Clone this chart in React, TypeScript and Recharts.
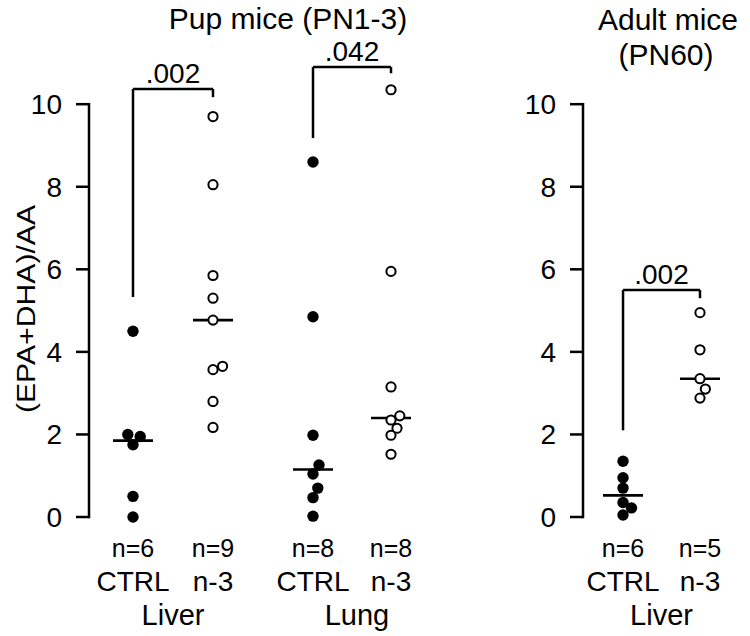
import React from "react";
import { ScatterChart, Scatter, XAxis, YAxis, ReferenceLine, Label } from "recharts";

// values, (EPA+DHA)/AA per animal
const liverCtrl = [4.5, 2.0, 1.95, 1.75, 0.5, 0.0];
const liverCtrlJitter = [0, -0.065, 0.09, 0, 0, 0];
const liverN3 = [9.7, 8.05, 5.85, 5.3, 4.77, 3.65, 3.57, 2.8, 2.17];
const liverN3Jitter = [0, 0, 0, 0, 0, 0.12, 0, 0, 0];
const lungCtrl = [8.6, 4.85, 1.98, 1.26, 1.04, 0.7, 0.47, 0.02];
const lungCtrlJitter = [0, 0, 0, 0.075, 0, 0.06, 0, 0];
const lungN3 = [10.35, 5.95, 3.15, 2.45, 2.35, 2.15, 1.98, 1.52];
const lungN3Jitter = [0, 0, 0, 0.11, 0, 0.075, 0, 0];
const adultCtrl = [1.35, 0.95, 0.7, 0.35, 0.22, 0.05];
const adultCtrlJitter = [0, 0, 0, 0, 0.11, 0];
const adultN3 = [4.95, 4.05, 3.35, 3.1, 2.88];
const adultN3Jitter = [0, 0, 0, 0.07, 0];

const treatLabels = ["CTRL", "n-3"];
const yTicks = [0, 2, 4, 6, 8, 10];

const pupGroupX = [1, 2, 3.25, 4.225];
const pupOrgans = ["Liver", "Lung"];
const pupOrganX = [1.5, 3.8];
const adultGroupX = [1, 2];
const adultOrgans = ["Liver"];
const adultOrganX = [1.5];

// significance brackets: x of both legs, bar height, where each leg stops, p value
const pupBrackets = [
    { x1: 1, x2: 2, top: 10.37, left: 5.33, right: 10.17, p: ".002" },
    { x1: 3.25, x2: 4.225, top: 10.9, left: 9.18, right: 10.75, p: ".042" },
];
const adultBrackets = [{ x1: 1, x2: 2, top: 5.5, left: 2.1, right: 5.3, p: ".002" }];

const FONT = '"Liberation Sans", Arial, Helvetica, sans-serif';
const CHART_H = 636;
const MARGIN_TOP = 1;
const XAXIS_H = 119;
const Y_MAX = 12.5;
const TICK_MARGIN = 14;
const TICK_LEN = 13;

interface Group {
    x: number;
    values: number[];
    jitter: number[];
    filled: boolean;
    treat: string;
}

const median = (v: number[]) => {
    const s = [...v].sort((a, b) => a - b);
    const m = Math.floor(s.length / 2);
    return s.length % 2 ? s[m] : (s[m - 1] + s[m]) / 2;
};

const FilledDot = (props: any) => <circle cx={props.cx} cy={props.cy} r={5.7} fill="#000" />;
const OpenDot = (props: any) => (
    <circle cx={props.cx} cy={props.cy} r={4.6} fill="#fff" stroke="#000" strokeWidth={2} />
);

// y tick: label, outward tick, and (on the 0 tick) the spine up to 10, drawn as a filled bar
const YTick = ({ x, y, payload }: any) => {
    const ax = x + TICK_MARGIN + TICK_LEN;
    const spine = (yTicks[yTicks.length - 1] / Y_MAX) * (CHART_H - MARGIN_TOP - XAXIS_H);
    return (
        <g>
            <text x={x} y={y} dy="0.355em" textAnchor="end" fontSize={28} fontFamily={FONT} fill="#000">
                {payload.value}
            </text>
            <rect x={x + TICK_MARGIN} y={y - 1.25} width={TICK_LEN} height={2.5} fill="#000" />
            {payload.value === 0 && (
                <rect x={ax - 1.25} y={y - spine - 1.25} width={2.5} height={spine + 2.5} fill="#000" />
            )}
        </g>
    );
};

function Panel({ width, yAxisWidth, xDomain, groups, organs, organX, brackets, medianHalf }: {
    width: number; yAxisWidth: number; xDomain: [number, number];
    groups: Group[]; organs: string[]; organX: number[]; brackets: typeof pupBrackets; medianHalf: number;
}) {
    // one x axis carries both the group ticks (n=, treatment) and the organ ticks below them
    const xTick = ({ x, y, payload }: any) => {
        const g = groups.find(gr => Math.abs(gr.x - payload.value) < 1e-6);
        if (g) {
            return (
                <g>
                    <text x={x} y={y + 40} textAnchor="middle" fontSize={25} fontFamily={FONT} fill="#000">
                        n={g.values.length}
                    </text>
                    <text x={x} y={y + 74} textAnchor="middle" fontSize={28} fontFamily={FONT} fill="#000">
                        {g.treat}
                    </text>
                </g>
            );
        }
        const i = organX.findIndex(o => Math.abs(o - payload.value) < 1e-6);
        return (
            <text x={x} y={y + 108} textAnchor="middle" fontSize={29} fontFamily={FONT} fill="#000">
                {organs[i]}
            </text>
        );
    };
    const ticks = [...groups.map(g => g.x), ...organX].sort((a, b) => a - b);

    return (
        <ScatterChart width={width} height={CHART_H} margin={{ top: MARGIN_TOP, right: 0, bottom: 0, left: 0 }}>
            <XAxis type="number" dataKey="x" domain={xDomain} ticks={ticks}
                interval={0} height={XAXIS_H} axisLine={false} tickLine={false} tickSize={0} tickMargin={0} tick={xTick} />
            <YAxis type="number" dataKey="y" domain={[0, Y_MAX]} ticks={yTicks} interval={0} width={yAxisWidth}
                axisLine={false} tickLine={false} tickSize={0} tickMargin={TICK_MARGIN} tick={YTick} />
            {groups.map((g, i) => (
                <Scatter key={"s" + i} isAnimationActive={false}
                    data={g.values.map((v, j) => ({ x: g.x + g.jitter[j], y: v }))}
                    shape={g.filled ? FilledDot : OpenDot} />
            ))}
            {brackets.map((b, i) => (
                <React.Fragment key={"b" + i}>
                    <ReferenceLine ifOverflow="visible" stroke="#000" strokeWidth={2.5}
                        segment={[{ x: b.x1, y: b.top }, { x: b.x2, y: b.top }]}>
                        <Label value={b.p} position="top" offset={6} fontSize={28} fontFamily={FONT} fill="#000" />
                    </ReferenceLine>
                    <ReferenceLine ifOverflow="visible" stroke="#000" strokeWidth={2.5}
                        segment={[{ x: b.x1, y: b.top }, { x: b.x1, y: b.left }]} />
                    <ReferenceLine ifOverflow="visible" stroke="#000" strokeWidth={2.5}
                        segment={[{ x: b.x2, y: b.top }, { x: b.x2, y: b.right }]} />
                </React.Fragment>
            ))}
            {groups.map((g, i) => {
                const m = median(g.values);
                return (
                    <ReferenceLine key={"m" + i} ifOverflow="visible" stroke="#000" strokeWidth={2.6}
                        segment={[{ x: g.x - medianHalf, y: m }, { x: g.x + medianHalf, y: m }]} />
                );
            })}
        </ScatterChart>
    );
}

const pupGroups: Group[] = [
    { x: pupGroupX[0], values: liverCtrl, jitter: liverCtrlJitter, filled: true, treat: treatLabels[0] },
    { x: pupGroupX[1], values: liverN3, jitter: liverN3Jitter, filled: false, treat: treatLabels[1] },
    { x: pupGroupX[2], values: lungCtrl, jitter: lungCtrlJitter, filled: true, treat: treatLabels[0] },
    { x: pupGroupX[3], values: lungN3, jitter: lungN3Jitter, filled: false, treat: treatLabels[1] },
];
const adultGroups: Group[] = [
    { x: adultGroupX[0], values: adultCtrl, jitter: adultCtrlJitter, filled: true, treat: treatLabels[0] },
    { x: adultGroupX[1], values: adultN3, jitter: adultN3Jitter, filled: false, treat: treatLabels[1] },
];

const textStyle: React.CSSProperties = {
    position: "absolute", transform: "translate(-50%, -50%)", whiteSpace: "nowrap",
    fontFamily: FONT, fontSize: 30, color: "#000", lineHeight: 1,
};

export default function App() {
    return (
        <div style={{ position: "relative", width: 750, height: 636, background: "#fff", overflow: "hidden" }}>
            <style>{"body{margin:0}"}</style>
            <div style={{ position: "absolute", left: 0, top: 0 }}>
                <Panel width={500} yAxisWidth={76} xDomain={[0.2875, 5.5875]}
                    groups={pupGroups} organs={pupOrgans} organX={pupOrganX} brackets={pupBrackets} medianHalf={0.25} />
            </div>
            <div style={{ position: "absolute", left: 500, top: 0 }}>
                <Panel width={250} yAxisWidth={70} xDomain={[0.311, 2.65]}
                    groups={adultGroups} organs={adultOrgans} organX={adultOrganX} brackets={adultBrackets} medianHalf={0.26} />
            </div>
            <div style={{ ...textStyle, left: 288, top: 19 }}>Pup mice (PN1-3)</div>
            <div style={{ ...textStyle, left: 668, top: 20 }}>Adult mice</div>
            <div style={{ ...textStyle, left: 666, top: 55 }}>(PN60)</div>
            <div style={{ ...textStyle, fontSize: 26, left: 26, top: 309,
                transform: "translate(-50%, -50%) rotate(-90deg) scaleX(1.16)" }}>
                (EPA+DHA)/AA
            </div>
        </div>
    );
}
